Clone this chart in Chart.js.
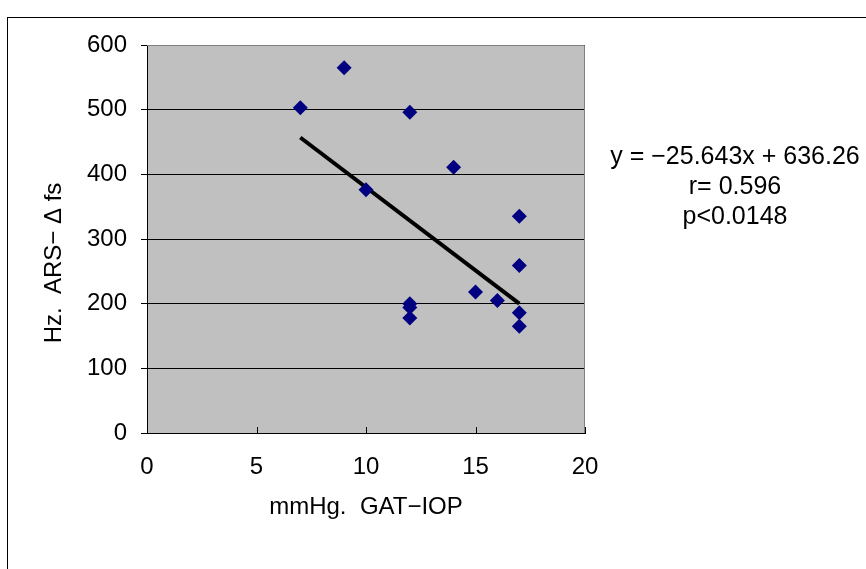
<!DOCTYPE html>
<html>
<head>
<meta charset="utf-8">
<script src="https://cdn.jsdelivr.net/npm/chart.js@4"></script>
<style>
  html, body { margin: 0; padding: 0; background: #fff; }
  #wrap { width: 866px; height: 569px; position: relative; }
</style>
</head>
<body>
<div id="wrap"><canvas id="chart" width="866" height="569"></canvas></div>
<script>
// measured points: GAT-IOP (mmHg) vs ARS-Δfs (Hz)
const iopValues = [7, 9, 12, 10, 14, 17, 17, 15, 16, 12, 12, 12, 17, 17];
const dfsValues = [503, 565, 496, 376, 411, 335, 259, 218, 205, 200, 194, 178, 186, 165];

// regression line end points
const trendX = [7, 17];
const trendY = [457, 200];

const xTicks = [0, 5, 10, 15, 20];
const yTicks = [0, 100, 200, 300, 400, 500, 600];

const yTitle = 'Hz.  ARS\u2212 \u0394 fs';
const xTitle = 'mmHg.  GAT\u2212IOP';
const noteLines = ['y = \u221225.643x + 636.26', 'r= 0.596', 'p<0.0148'];

const FONT = "'Liberation Sans', Arial, sans-serif";

// фон, рамки и подписи
const framePlugin = {
    id: 'frame',
    beforeDraw(chart) {
        const { ctx, chartArea: a } = chart;
        ctx.save();
        ctx.fillStyle = '#fff';
        ctx.fillRect(0, 0, chart.width, chart.height);
        ctx.strokeStyle = '#000';
        ctx.lineWidth = 1;
        ctx.strokeRect(7.5, 17.5, 1000, 1000);
        ctx.fillStyle = '#c0c0c0';
        ctx.fillRect(a.left, a.top, a.right - a.left, a.bottom - a.top);
        ctx.restore();
    },
    afterDatasetsDraw(chart) {
        const { ctx, chartArea: a, scales } = chart;
        ctx.save();
        ctx.strokeStyle = '#808080';
        ctx.lineWidth = 1;
        ctx.beginPath();
        ctx.moveTo(a.left, a.top + 0.5);
        ctx.lineTo(a.right - 0.5, a.top + 0.5);
        ctx.lineTo(a.right - 0.5, a.bottom);
        ctx.stroke();
        // x tick marks point up into the plot
        ctx.strokeStyle = '#000';
        ctx.beginPath();
        xTicks.forEach(v => {
            const px = Math.round(scales.x.getPixelForValue(v)) + 0.5;
            ctx.moveTo(px, a.bottom);
            ctx.lineTo(px, a.bottom - 6);
        });
        ctx.stroke();
        ctx.fillStyle = '#000';
        ctx.font = '25px ' + FONT;
        ctx.textAlign = 'center';
        ctx.textBaseline = 'middle';
        noteLines.forEach((t, i) => ctx.fillText(t, 735, 157 + i * 30));
        // y axis title
        ctx.font = '24px ' + FONT;
        ctx.translate(54, 263);
        ctx.rotate(-Math.PI / 2);
        ctx.fillText(yTitle, 0, 0);
        ctx.restore();
    }
};

new Chart(document.getElementById('chart'), {
    type: 'scatter',
    data: {
        datasets: [
            {
                label: 'data',
                data: iopValues.map((x, i) => ({ x: x, y: dfsValues[i] })),
                pointStyle: 'rectRot',
                pointRadius: 7.5,
                pointHoverRadius: 7.5,
                backgroundColor: '#000080',
                borderColor: '#000080',
                borderWidth: 0,
                order: 1
            },
            {
                label: 'trend',
                type: 'line',
                data: trendX.map((x, i) => ({ x: x, y: trendY[i] })),
                borderColor: '#000',
                borderWidth: 4,
                pointRadius: 0,
                fill: false,
                order: 2
            }
        ]
    },
    options: {
        responsive: false,
        animation: false,
        devicePixelRatio: 1,
        layout: { padding: { left: 0, top: 45, right: 281, bottom: 0 } },
        plugins: {
            legend: { display: false },
            tooltip: { enabled: false }
        },
        scales: {
            x: {
                type: 'linear',
                min: 0,
                max: 20,
                afterBuildTicks: s => { s.ticks = xTicks.map(v => ({ value: v })); },
                afterFit: s => { s.height = 136; },
                grid: { display: false, drawTicks: false },
                border: { display: true, color: '#000', width: 1 },
                ticks: { color: '#000', font: { family: FONT, size: 24 }, padding: 20 },
                title: {
                    display: true,
                    text: xTitle,
                    color: '#000',
                    font: { family: FONT, size: 24 },
                    padding: { top: 0, bottom: 47 }
                }
            },
            y: {
                type: 'linear',
                min: 0,
                max: 600,
                afterBuildTicks: s => { s.ticks = yTicks.map(v => ({ value: v })); },
                afterFit: s => { s.width = 147; },
                grid: { color: '#000', lineWidth: 1, drawTicks: true, tickLength: 6, tickColor: '#000' },
                border: { display: true, color: '#000', width: 1 },
                ticks: { color: '#000', font: { family: FONT, size: 24 }, padding: 14 },
                title: { display: false }
            }
        }
    },
    plugins: [framePlugin]
});
</script>
</body>
</html>
